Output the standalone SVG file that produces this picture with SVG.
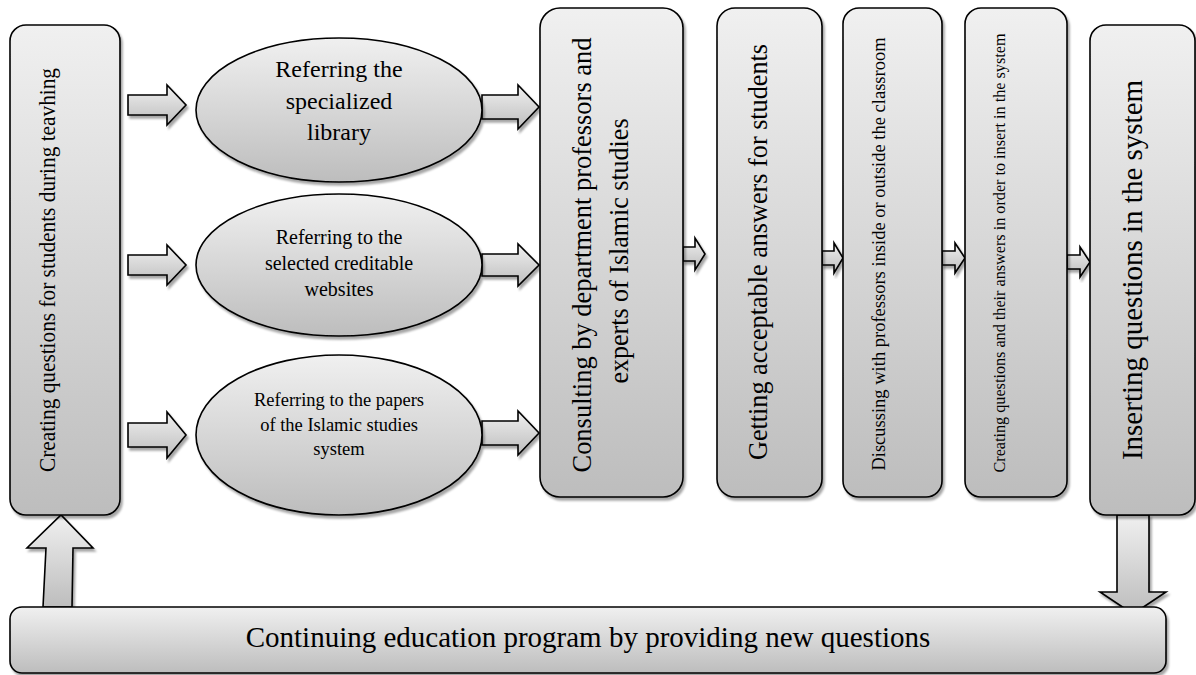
<svg xmlns="http://www.w3.org/2000/svg" width="1196" height="675" viewBox="0 0 1196 675">
<defs>
<linearGradient id="g" x1="0" y1="0" x2="0" y2="1">
<stop offset="0" stop-color="#f0f0f0"/>
<stop offset="1" stop-color="#bdbdbd"/>
</linearGradient>
<filter id="sh" x="-10%" y="-10%" width="130%" height="130%">
<feDropShadow dx="2" dy="3" stdDeviation="1.2" flood-color="#000" flood-opacity="0.35"/>
</filter>
</defs>
<style>
.s{fill:url(#g);stroke:#000;stroke-width:1.6;filter:url(#sh)}
.t{font-family:"Liberation Serif","Times New Roman",serif;fill:#000;text-anchor:middle}
</style>
<rect width="1196" height="675" fill="#fff"/>

<g id="connectors">
<path class="s" d="M128,95 L167,95 L167,85 L186,105 L167,125 L167,115 L128,115 Z"/>
<path class="s" d="M128,255 L167,255 L167,245 L186,265 L167,285 L167,275 L128,275 Z"/>
<path class="s" d="M128,423 L167,423 L167,412 L186,435 L167,458 L167,447 L128,447 Z"/>
<path class="s" d="M482,95 L518,95 L518,85 L539,107 L518,129 L518,119 L482,119 Z"/>
<path class="s" d="M482,254 L518,254 L518,244 L539,265 L518,286 L518,276 L482,276 Z"/>
<path class="s" d="M482,421 L518,421 L518,411 L539,433 L518,455 L518,445 L482,445 Z"/>
<path class="s" d="M683,247 L695,247 L695,238 L705,254 L695,270 L695,261 L683,261 Z"/>
<path class="s" d="M822,251 L834,251 L834,243 L843,258 L834,273 L834,265 L822,265 Z"/>
<path class="s" d="M942,251 L955,251 L955,243 L965,258 L955,273 L955,265 L942,265 Z"/>
<path class="s" d="M1067,255 L1080,255 L1080,247 L1090,262 L1080,277 L1080,269 L1067,269 Z"/>
<path class="s" d="M43,607 L46,548 L27,548 L61,515 L93,548 L73,548 L72,607 Z"/>
<path class="s" d="M1117,515 L1149,515 L1149,592 L1166,592 L1133,614 L1100,592 L1117,592 Z"/>
</g>

<g id="n1">
<rect class="s" x="10" y="25" width="110" height="490" rx="16"/>
<text class="t" font-size="23" textLength="404" lengthAdjust="spacingAndGlyphs" transform="translate(55,270) rotate(-90)">Creating questions for students during teavhing</text>
</g>

<g id="n2">
<ellipse class="s" cx="339" cy="110" rx="143" ry="72"/>
<text class="t" font-size="24" x="339" y="77">Referring the</text>
<text class="t" font-size="24" x="339" y="109">specialized</text>
<text class="t" font-size="24" x="339" y="140">library</text>
</g>

<g id="n3">
<ellipse class="s" cx="339" cy="265" rx="143" ry="71"/>
<text class="t" font-size="20" x="339" y="244">Referring to the</text>
<text class="t" font-size="20" x="339" y="270">selected creditable</text>
<text class="t" font-size="20" x="339" y="296">websites</text>
</g>

<g id="n4">
<ellipse class="s" cx="339" cy="435" rx="143" ry="80"/>
<text class="t" font-size="18.5" x="339" y="406">Referring to the papers</text>
<text class="t" font-size="18.5" x="339" y="431">of the Islamic studies</text>
<text class="t" font-size="18.5" x="339" y="455">system</text>
</g>

<g id="n5">
<rect class="s" x="540" y="8" width="143" height="489" rx="20"/>
<text class="t" font-size="28" textLength="435" lengthAdjust="spacingAndGlyphs" transform="translate(591,255) rotate(-90)">Consulting by department professors and</text>
<text class="t" font-size="28" textLength="265" lengthAdjust="spacingAndGlyphs" transform="translate(628,251) rotate(-90)">experts of Islamic studies</text>
</g>

<g id="n6">
<rect class="s" x="717" y="8" width="105" height="489" rx="18"/>
<text class="t" font-size="27.5" textLength="416" lengthAdjust="spacingAndGlyphs" transform="translate(767,252) rotate(-90)">Getting acceptable answers for students</text>
</g>

<g id="n7">
<rect class="s" x="843" y="8" width="99" height="489" rx="16"/>
<text class="t" font-size="18.5" transform="translate(885,254) rotate(-90)">Discussing with professors inside or outside the classroom</text>
</g>

<g id="n8">
<rect class="s" x="965" y="8" width="102" height="489" rx="16"/>
<text class="t" font-size="17.5" textLength="439" lengthAdjust="spacingAndGlyphs" transform="translate(1005,253) rotate(-90)">Creating questions and their answers in order to insert in the system</text>
</g>

<g id="n9">
<rect class="s" x="1090" y="25" width="105" height="490" rx="16"/>
<text class="t" font-size="29" transform="translate(1142,270) rotate(-90)">Inserting questions in the system</text>
</g>

<g id="n10">
<rect class="s" x="10" y="607" width="1156" height="66" rx="12"/>
<text class="t" font-size="29" x="588" y="647">Continuing education program by providing new questions</text>
</g>
</svg>
